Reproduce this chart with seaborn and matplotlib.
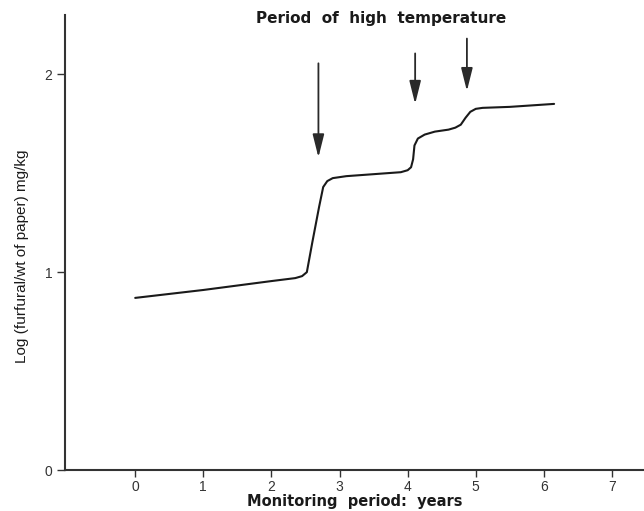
import matplotlib
matplotlib.use("Agg")
import matplotlib.pyplot as plt
import seaborn as sns
import pandas as pd

# Furfural content over the monitoring period
years = [0, 1, 2, 2.35, 2.45, 2.52, 2.6, 2.7, 2.76, 2.82, 2.9, 3.1, 3.5, 3.9,
         4.0, 4.05, 4.08, 4.1, 4.15, 4.25, 4.4, 4.6, 4.7, 4.78, 4.85, 4.92,
         5.0, 5.1, 5.5, 6.15]
log_furfural = [0.87, 0.91, 0.955, 0.97, 0.98, 1.0, 1.15, 1.33, 1.43, 1.46,
                1.475, 1.485, 1.495, 1.505, 1.515, 1.53, 1.57, 1.64, 1.675,
                1.695, 1.71, 1.72, 1.73, 1.745, 1.78, 1.81, 1.825, 1.83,
                1.835, 1.85]

# High-temperature events (arrow x, arrow top, arrow tip)
event_x = [2.69, 4.11, 4.87]
event_top = [2.055, 2.105, 2.18]
event_tip = [1.58, 1.85, 1.915]

x_ticks = [0, 1, 2, 3, 4, 5, 6, 7]
y_ticks = [0, 1, 2]

sns.set_style("ticks")
plt.rcParams["font.family"] = ["Liberation Sans", "DejaVu Sans"]

df = pd.DataFrame({"years": years, "log_furfural": log_furfural})

fig = plt.figure(figsize=(6.44, 5.11), dpi=100)
ax = fig.add_axes([0.101, 0.080, 0.899, 0.891])

sns.lineplot(data=df, x="years", y="log_furfural", ax=ax, color="#1a1a1a",
             linewidth=1.5)

for x, top, tip in zip(event_x, event_top, event_tip):
    ax.annotate("", xy=(x, tip), xytext=(x, top),
                arrowprops=dict(arrowstyle="-|>,head_length=1.0,head_width=0.25",
                                color="#2a2a2a", lw=1.3, mutation_scale=14,
                                shrinkA=0, shrinkB=0))

ax.text(3.61, 2.28, "Period  of  high  temperature", ha="center",
        va="center", fontsize=11, fontweight="bold", color="#1a1a1a",
        family="DejaVu Sans")

ax.set_xlim(-1.03, 7.47)
ax.set_ylim(0, 2.30)
ax.set_xticks(x_ticks)
ax.set_yticks(y_ticks)
ax.set_xticklabels([str(t) for t in x_ticks])
ax.set_yticklabels([str(t) for t in y_ticks])
ax.tick_params(axis="x", labelsize=10, colors="#333333", length=5,
               width=1.0, pad=2)
ax.tick_params(axis="y", labelsize=10, colors="#333333", length=6,
               width=1.0, pad=3)
ax.set_xlabel("Monitoring  period:  years", fontsize=10.5, fontweight="bold",
              color="#1a1a1a", family="DejaVu Sans")
ax.xaxis.set_label_coords(0.5, -0.053)
ax.set_ylabel("Log (furfural/wt of paper) mg/kg", fontsize=11,
              color="#1a1a1a")
ax.yaxis.set_label_coords(-0.062, 0.47)

for side in ["top", "right"]:
    ax.spines[side].set_visible(False)
for side in ["left", "bottom"]:
    ax.spines[side].set_linewidth(1.5)
    ax.spines[side].set_color("#333333")

fig.savefig("out.png", dpi=100)
